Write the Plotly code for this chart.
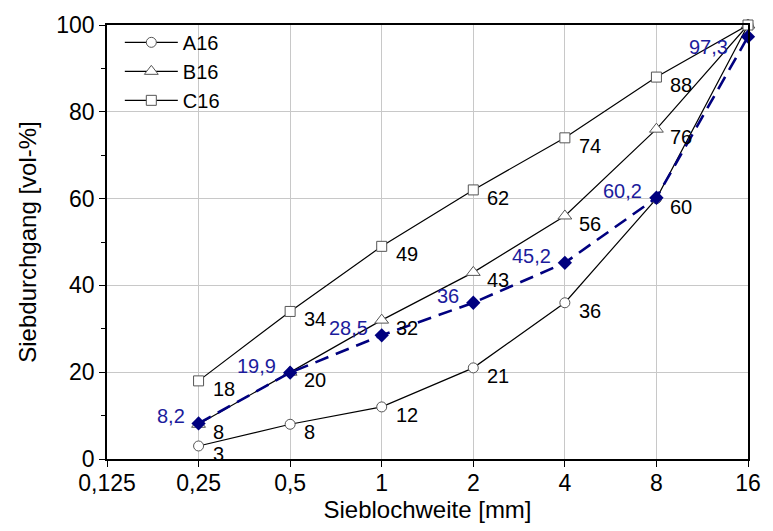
import math
import plotly.graph_objects as go

sieve = [0.25, 0.5, 1, 2, 4, 8, 16]
a16 = [3, 8, 12, 21, 36, 60, 100]
b16 = [8, 20, 32, 43, 56, 76, 100]
c16 = [18, 34, 49, 62, 74, 88, 100]
mix = [8.2, 19.9, 28.5, 36, 45.2, 60.2, 97.3]
mix_labels = ["8,2", "19,9", "28,5", "36", "45,2", "60,2", "97,3"]

x_ticks = [0.125, 0.25, 0.5, 1, 2, 4, 8, 16]
x_ticktext = ["0,125", "0,25", "0,5", "1", "2", "4", "8", "16"]

FONT = "Liberation Sans, Arial, sans-serif"
BLUE = "#00007f"
BLUE_TXT = "#1c1c9c"
GREY = "#555555"

fig = go.Figure()

def add_series(name, y, symbol, size):
    fig.add_trace(go.Scatter(
        x=sieve, y=y, name=name, mode="lines+markers",
        line=dict(color="black", width=1.2),
        marker=dict(symbol=symbol, size=size, color="white",
                    line=dict(color=GREY, width=1)),
        cliponaxis=False,
    ))

add_series("A16", a16, "circle", 10)
add_series("B16", b16, "triangle-up", 12)
add_series("C16", c16, "square", 10)

fig.add_trace(go.Scatter(
    x=sieve, y=mix, name="mix", mode="lines+markers", showlegend=False,
    line=dict(color=BLUE, width=2.6, dash="14px,8px"),
    marker=dict(symbol="diamond", size=11, color=BLUE),
    cliponaxis=False,
))

annotations = []
# black value labels (bottom-right of points), no label at 16 mm
for series in (a16, b16, c16):
    for xv, yv in zip(sieve[:-1], series[:-1]):
        annotations.append(dict(
            x=math.log10(xv), y=yv, text=str(yv), showarrow=False,
            xanchor="left", yanchor="middle", xshift=12, yshift=-8,
            font=dict(family=FONT, size=20, color="black"),
        ))
# blue labels (upper-left of points)
blue_shift = [(-12, 7)] * 6 + [(-18, -10)]
for xv, yv, lab, (dx, dy) in zip(sieve, mix, mix_labels, blue_shift):
    annotations.append(dict(
        x=math.log10(xv), y=yv, text=lab, showarrow=False,
        xanchor="right", yanchor="middle", xshift=dx, yshift=dy,
        font=dict(family=FONT, size=20, color=BLUE_TXT),
    ))

fig.update_layout(
    width=773, height=531,
    margin=dict(l=107, r=17, t=22, b=70),
    paper_bgcolor="white", plot_bgcolor="white",
    font=dict(family=FONT, size=23, color="black"),
    annotations=annotations,
    legend=dict(x=0.02, y=1.005, xanchor="left", yanchor="top",
                bgcolor="rgba(0,0,0,0)", font=dict(size=20, family=FONT),
                tracegroupgap=0, itemwidth=53),
    showlegend=True,
)

fig.update_xaxes(
    type="log", range=[math.log10(0.125), math.log10(16)],
    tickvals=x_ticks, ticktext=x_ticktext,
    showgrid=True, gridcolor="#c8c8c8", gridwidth=1,
    showline=True, linecolor="black", linewidth=1.6, mirror=True,
    ticks="outside", ticklen=6, tickwidth=1.4, tickcolor="black",
    ticklabelstandoff=-3,
    tickfont=dict(size=23, family=FONT),
    title=dict(text="Sieblochweite [mm]", font=dict(size=24, family=FONT), standoff=6),
    zeroline=False,
)
fig.update_yaxes(
    range=[0, 100], tickvals=[0, 20, 40, 60, 80, 100],
    showgrid=True, gridcolor="#c8c8c8", gridwidth=1,
    showline=True, linecolor="black", linewidth=1.6, mirror=True,
    ticks="outside", ticklen=6, tickwidth=1.4, tickcolor="black",
    minor=dict(dtick=10, tick0=0, ticks="outside", ticklen=4, tickcolor="black", showgrid=False),
    tickfont=dict(size=23, family=FONT),
    title=dict(text="Siebdurchgang [vol-%]", font=dict(size=24, family=FONT), standoff=13),
    zeroline=False,
)

fig.write_html("out.html")
